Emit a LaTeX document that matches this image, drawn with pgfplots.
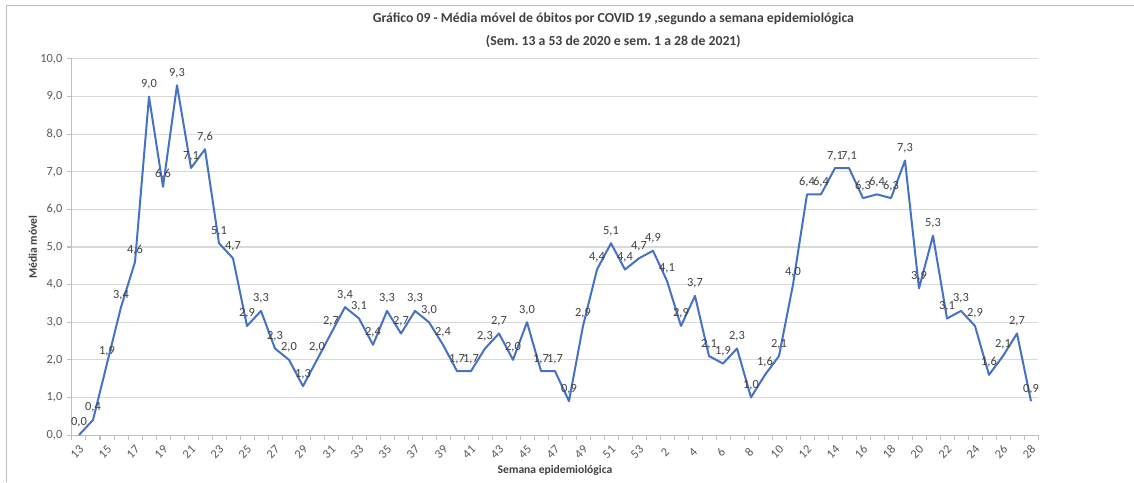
\documentclass[border=0pt]{standalone}
\usepackage{pgfplots}
\pgfplotsset{compat=1.18}
\usepackage{pgfplotstable}
\usepackage{fontspec}
\setmainfont{Carlito}
\frenchspacing

\definecolor{serie}{HTML}{4472C4}
\definecolor{grade}{HTML}{D9D9D9}
\definecolor{eixo}{HTML}{BFBFBF}
\definecolor{rotulo}{HTML}{595959}
\definecolor{valor}{HTML}{404040}

% Média móvel semanal de óbitos: índice 0..40 = sem. 13..53 de 2020, 41..68 = sem. 1..28 de 2021
\pgfplotstableread{
i  media
0  0.0
1  0.4
2  1.9
3  3.4
4  4.6
5  9.0
6  6.6
7  9.3
8  7.1
9  7.6
10 5.1
11 4.7
12 2.9
13 3.3
14 2.3
15 2.0
16 1.3
17 2.0
18 2.7
19 3.4
20 3.1
21 2.4
22 3.3
23 2.7
24 3.3
25 3.0
26 2.4
27 1.7
28 1.7
29 2.3
30 2.7
31 2.0
32 3.0
33 1.7
34 1.7
35 0.9
36 2.9
37 4.4
38 5.1
39 4.4
40 4.7
41 4.9
42 4.1
43 2.9
44 3.7
45 2.1
46 1.9
47 2.3
48 1.0
49 1.6
50 2.1
51 4.0
52 6.4
53 6.4
54 7.1
55 7.1
56 6.3
57 6.4
58 6.3
59 7.3
60 3.9
61 5.3
62 3.1
63 3.3
64 2.9
65 1.6
66 2.1
67 2.7
68 0.9
}\obitos

\begin{document}
\begin{tikzpicture}[x=1pt,y=1pt]
\useasboundingbox (0,0) rectangle (850.5,361.5);
% moldura do gráfico
\draw[eixo, line width=0.75pt] (4.5,0) -- (4.5,357) -- (850.5,357);
% título
\node[font=\fontsize{10.3}{12}\selectfont\bfseries, text=valor, align=center]
  at (460,339) {Gráfico 09 - Média móvel de óbitos por COVID 19 ,segundo a semana epidemiológica\\[5pt]
  (Sem. 13 a 53 de 2020 e sem. 1 a 28 de 2021)};
\begin{axis}[
  at={(54pt,35.25pt)}, anchor=south west,
  scale only axis, width=724.5pt, height=282pt,
  xmin=-0.5, xmax=68.5, ymin=0, ymax=10,
  axis x line=bottom, axis y line=left,
  axis line style={-, eixo, line width=0.75pt},
  ytick={0,1,...,10},
  ymajorgrids, grid style={grade, line width=0.75pt},
  xtick={0,2,...,68},
  xticklabels={13,15,17,19,21,23,25,27,29,31,33,35,37,39,41,43,45,47,49,51,53,2,4,6,8,10,12,14,16,18,20,22,24,26,28},
  minor xtick={-0.5,0.5,...,68.5},
  tick align=outside,
  major tick length=3.75pt, minor tick length=3.75pt,
  xtick style={draw=none}, minor x tick style={draw=eixo, line width=0.75pt},
  ytick style={draw=eixo, line width=0.75pt},
  tick label style={font=\fontsize{9.3}{11}\selectfont, text=rotulo},
  xticklabel style={rotate=45, anchor=center, xshift=-7.4pt, yshift=-5.3pt},
  yticklabel style={/pgf/number format/.cd, fixed, fixed zerofill, precision=1, use comma, assume math mode=true},
  xlabel={Semana epidemiológica},
  ylabel={Média móvel},
  label style={font=\fontsize{8.7}{10}\selectfont\bfseries, text=valor},
  xlabel style={at={(axis description cs:0.5,-0.093)}, anchor=center},
  ylabel style={at={(axis description cs:-0.0404,0.5)}, anchor=center, rotate=0},
  clip=false,
]
\addplot[serie, line width=1.5pt, line join=round, mark=none,
  nodes near coords,
  every node near coord/.append style={font=\fontsize{9.3}{11}\selectfont, text=valor, anchor=south, yshift=1.5pt,
    /pgf/number format/.cd, fixed, fixed zerofill, precision=1, use comma, assume math mode=true}]
  table[x=i, y=media] {\obitos};
\end{axis}
\end{tikzpicture}
\end{document}
